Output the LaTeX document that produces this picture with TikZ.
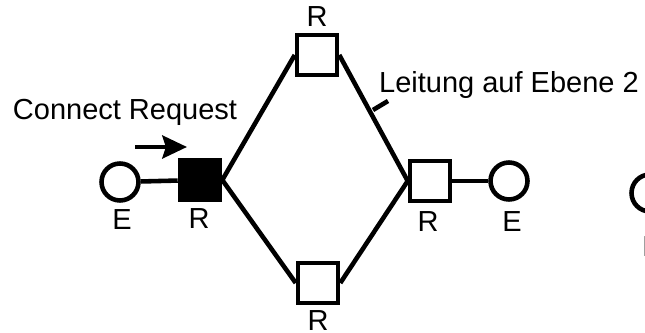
\documentclass[tikz,border=0pt]{standalone}
\usepackage{fontspec}
\setmainfont{Liberation Sans}
\usetikzlibrary{arrows.meta,positioning}

\begin{document}
\begin{tikzpicture}[x=0.02cm,y=-0.02cm,
  router/.style={draw,line width=2.6pt,minimum size=0.8cm,inner sep=0pt},
  endsys/.style={draw,circle,line width=2.6pt,minimum size=0.74cm,inner sep=0pt},
  lbl/.style={font=\fontsize{16.5}{20}\selectfont,inner sep=0pt,anchor=base},
  link/.style={line width=2.6pt}]
\useasboundingbox (0,0) rectangle (645,333);

% Nodes
\node[router,fill=black] (r1) at (200,180) {};
\node[router] (r2) at (317,55) {};
\node[router] (r3) at (318,283) {};
\node[router] (r4) at (430,181) {};
\node[endsys] (e1) at (120,182) {};
\node[endsys] (e2) at (509,181) {};
\node[endsys] (e3) at (650,193) {};

% Labels
\node[lbl] (r2-lbl) at (317,27) {R};
\node[lbl] (r3-lbl) at (318,331) {R};
\node[lbl] (e1-lbl) at (122,230) {E};
\node[lbl] (r1-lbl) at (199,229) {R};
\node[lbl] (r4-lbl) at (428,232) {R};
\node[lbl] (e2-lbl) at (512,232) {E};
\node[lbl] (e3-lbl) at (652,257) {E};
\node[lbl] (req) at (125,120) {Connect Request};
\node[lbl] (lvl) at (509,93) {Leitung auf Ebene 2};

% Links
\draw[link] (e1) -- (r1);
\draw[link] (r1.east) -- (r2.west);
\draw[link] (r1.east) -- (r3.west);
\draw[link] (r2.east) -- (r4.west);
\draw[link] (r3.east) -- (r4.west);
\draw[link] (r4) -- (e2);

% Arrow and pin
\coordinate (req-a) at (135,147);
\coordinate (req-b) at (187,147);
\draw[link,-{Stealth[length=14pt,width=13pt,inset=2pt]}] (req-a) -- (req-b);
\coordinate (pin-a) at (373,110);
\coordinate (pin-b) at (388,101);
\draw[link] (pin-a) -- (pin-b);

\end{tikzpicture}
\end{document}
